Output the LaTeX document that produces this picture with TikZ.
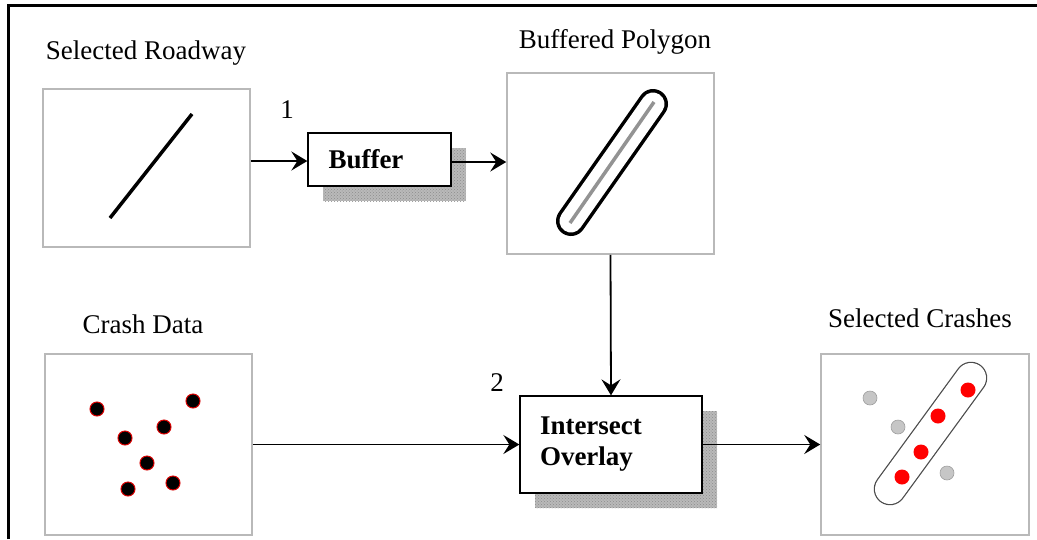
\documentclass[tikz,border=0pt]{standalone}
\usepackage{fontspec}
\setmainfont{Liberation Serif}
\usetikzlibrary{arrows.meta,shadows,patterns}
\begin{document}
\begin{tikzpicture}[x=1pt,y=-1pt,
  panel/.style={draw=gray!55, line width=1.5pt, fill=white, inner sep=0pt},
  procbox/.style={draw=black, line width=1.3pt, fill=white, inner ysep=0pt,
    font=\bfseries\fontsize{27}{32}\selectfont, align=left,
    general shadow={fill=gray!55, shadow xshift=15pt, shadow yshift=-15pt,
      postaction={pattern=crosshatch dots, pattern color=gray!90}}},
  title/.style={anchor=base, inner sep=0pt, font=\fontsize{27}{32}\selectfont},
  arr/.style={-{Stealth[length=16pt,width=19pt,inset=6pt]}, line width=1.8pt},
  crash/.style={fill=black, draw=red!85!black, line width=1pt},
  hit/.style={fill=red},
  miss/.style={fill=gray!45, draw=gray!75, line width=0.6pt}]
\useasboundingbox (0,0) rectangle (1037,539);
% frame
\draw[line width=3pt] (8,539) -- (8,5) -- (1037,5);

% panels
\node[panel, minimum width=207pt, minimum height=158pt] (rd) at (146.5,168) {};
\node[panel, minimum width=207pt, minimum height=181pt] (bp) at (610.5,163.5) {};
\node[panel, minimum width=207pt, minimum height=181pt] (cd) at (148.5,444.5) {};
\node[panel, minimum width=208pt, minimum height=181pt] (sc) at (925,444.5) {};

% titles
\node[title] (trd) at (146,59) {Selected Roadway};
\node[title] (tbp) at (615,48) {Buffered Polygon};
\node[title] (tcd) at (143,333) {Crash Data};
\node[title] (tsc) at (920,327) {Selected Crashes};
\node[title] (n1) at (287,118) {1};
\node[title] (n2) at (497,391) {2};

% process boxes
\node[procbox, text width=102pt, inner xsep=20.5pt, minimum height=53pt] (buf) at (379.5,159.5) {Buffer};
\node[procbox, text width=142pt, inner xsep=20pt, minimum height=97pt] (ins) at (611,444.5) {Intersect\\[-1pt]Overlay\\[14pt]};

% roadway content
\draw[line width=3.5pt] (110,218) -- (192,114);

% buffered polygon content
\draw[line width=30pt, line cap=round] (571,221) -- (653,104);
\draw[white, line width=23pt, line cap=round] (571,221) -- (653,104);
\draw[gray!85, line width=3.5pt] (570,223) -- (654,102);

% crash data content
\foreach \p in {(97,409),(193,401),(164,427),(125,438),(147,463),(173,483),(128,489)}
  \filldraw[crash] \p circle (7pt);

% selected crashes content
\draw[black!70, line width=32.5pt, line cap=round] (890,489) -- (971,378);
\draw[white, line width=30pt, line cap=round] (890,489) -- (971,378);
\foreach \p in {(870,398),(898,427),(947,473)}
  \filldraw[miss] \p circle (7pt);
\foreach \p in {(968,390),(938,416),(921,452),(902,477)}
  \fill[hit] \p circle (7.5pt);

% connectors
\coordinate (a1) at (rd.east |- 0,161);
\coordinate (a2) at (buf.east |- 0,162);
\draw[arr] (a1) -- (buf.west |- a1);
\draw[arr] (a2) -- (bp.west |- a2);
\draw[arr] (bp.south) -- (ins.north);
\draw[arr] (cd.east) -- (ins.west);
\draw[arr] (ins.east) -- (sc.west);
\end{tikzpicture}
\end{document}
